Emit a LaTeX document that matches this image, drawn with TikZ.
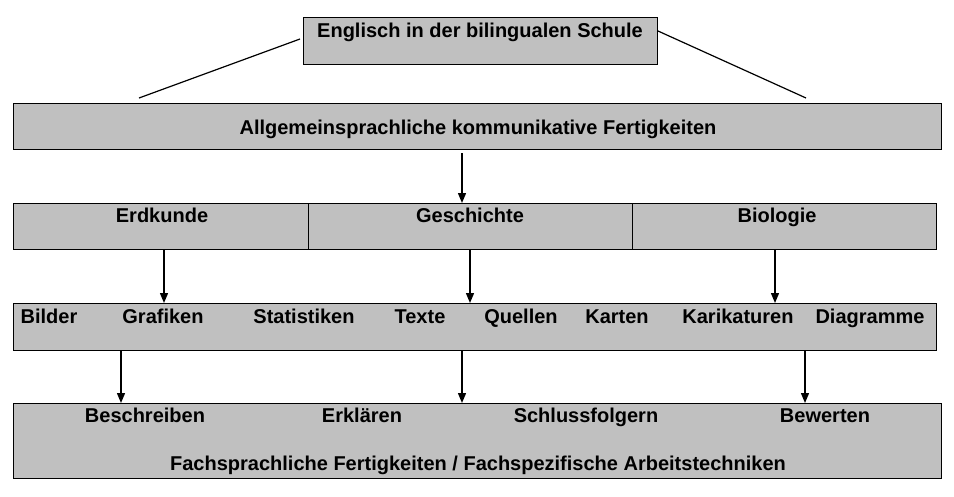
\documentclass[tikz,border=0pt]{standalone}
\usepackage{fontspec}
\setmainfont{Liberation Sans}
\usetikzlibrary{arrows.meta}
\definecolor{boxgray}{HTML}{C0C0C0}
\begin{document}
\begin{tikzpicture}[x=1pt,y=-1pt,
  box/.style={draw=black,fill=boxgray,line width=1.2pt,inner sep=0pt,anchor=north west},
  lbl/.style={font=\fontsize{20}{24}\selectfont\bfseries,inner sep=0pt,text=black,anchor=base},
  arr/.style={line width=1.4pt,-{Triangle[width=8pt,length=10pt]}},
  conn/.style={line width=1.2pt}]
\path[use as bounding box] (0,0) rectangle (954,496);
% boxes
\node[box,minimum width=354pt,minimum height=47pt] (top) at (303,17) {};
\node[box,minimum width=928pt,minimum height=46pt] (r2) at (13,103) {};
\node[box,minimum width=295pt,minimum height=46pt] (erd) at (13,203) {};
\node[box,minimum width=324pt,minimum height=46pt] (ges) at (308,203) {};
\node[box,minimum width=304pt,minimum height=46pt] (bio) at (632,203) {};
\node[box,minimum width=923pt,minimum height=47pt] (r4) at (13,303) {};
\node[box,minimum width=928pt,minimum height=75pt] (r5) at (13,403) {};
% texts
\node[lbl] (ttop) at (480,37) {Englisch in der bilingualen Schule};
\node[lbl] (tr2) at (478,134) {Allgemeinsprachliche kommunikative Fertigkeiten};
\node[lbl] (terd) at (162,222) {Erdkunde};
\node[lbl] (tges) at (470,222) {Geschichte};
\node[lbl] (tbio) at (777,222) {Biologie};
\node[lbl] (t1) at (49,323) {Bilder};
\node[lbl] (t2) at (163,323) {Grafiken};
\node[lbl] (t3) at (304,323) {Statistiken};
\node[lbl] (t4) at (420,323) {Texte};
\node[lbl] (t5) at (521,323) {Quellen};
\node[lbl] (t6) at (617,323) {Karten};
\node[lbl] (t7) at (738,323) {Karikaturen};
\node[lbl] (t8) at (870,323) {Diagramme};
\node[lbl] (b1) at (145,422) {Beschreiben};
\node[lbl] (b2) at (362,422) {Erklären};
\node[lbl] (b3) at (586,422) {Schlussfolgern};
\node[lbl] (b4) at (825,422) {Bewerten};
\node[lbl] (tr5) at (478,470) {Fachsprachliche Fertigkeiten / Fachspezifische Arbeitstechniken};
% connector coordinates
\coordinate (lA) at (300,39);
\coordinate (lB) at (139,98);
\coordinate (rA) at (658,31);
\coordinate (rB) at (806,98);
\coordinate (x1) at (462,0);
\coordinate (x2) at (164,0);
\coordinate (x3) at (470,0);
\coordinate (x4) at (775,0);
\coordinate (x5) at (121,0);
\coordinate (x6) at (462,0);
\coordinate (x7) at (805,0);
\draw[conn] (lA) -- (lB);
\draw[conn] (rA) -- (rB);
\draw[arr] ([yshift=-3pt]r2.south -| x1) -- (ges.north -| x1);
\draw[arr] (erd.south -| x2) -- (r4.north -| x2);
\draw[arr] (ges.south -| x3) -- (r4.north -| x3);
\draw[arr] (bio.south -| x4) -- (r4.north -| x4);
\draw[arr] (r4.south -| x5) -- (r5.north -| x5);
\draw[arr] (r4.south -| x6) -- (r5.north -| x6);
\draw[arr] (r4.south -| x7) -- (r5.north -| x7);
\end{tikzpicture}
\end{document}
